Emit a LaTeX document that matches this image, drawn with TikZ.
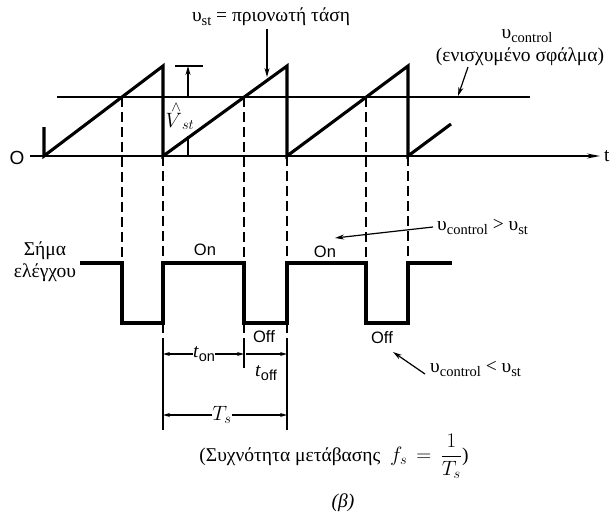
\documentclass[tikz,border=0pt]{standalone}
\usepackage{fontspec}
\setmainfont{Liberation Serif}
\newfontfamily\sansf{Liberation Sans}
\usetikzlibrary{arrows.meta}
\newcommand\mysub[1]{\raisebox{-0.45ex}{\fontsize{14.5}{15}\selectfont #1}}
\begin{document}
\begin{tikzpicture}[x=1pt,y=-1pt,
  wave/.style={line width=3.1pt, line join=miter},
  axisln/.style={line width=1.4pt},
  dashln/.style={line width=1.1pt, dash pattern=on 10pt off 5pt},
  txt/.style={font=\fontsize{19.5}{22}\selectfont, inner sep=0pt},
  sanstxt/.style={font=\sansf\fontsize{16.5}{18}\selectfont, inner sep=0pt},
  lbl/.style={-{Stealth[length=9pt,width=5pt]}, line width=1.2pt},
  dimarr/.style={-{Stealth[length=7pt,width=4pt]}, line width=1.2pt}]
\useasboundingbox (0,0) rectangle (611,515);

% axis
\coordinate (o) at (30,156);
\coordinate (axend) at (600,156);
\draw[axisln, -{Stealth[length=13pt,width=5pt]}] (o) -- (axend);
\node[font=\sansf\fontsize{19}{20}\selectfont, inner sep=0pt] (O) at (17,158) {O};
\node[txt, anchor=west] (tlab) at (604,156) {t};

% control line
\coordinate (c1) at (57,97);
\coordinate (c2) at (530,97);
\draw[axisln] (c1) -- (c2);

% sawtooth
\draw[wave] (44,127) -- (44,156) -- (163,66) -- (163,156) -- (287,66) -- (287,156) -- (408,66) -- (408,156) -- (451,124);

% dashed guides
\foreach \x in {122,244,366} \draw[dashln] (\x,97) -- (\x,263);
\foreach \x in {163,287,408} \draw[dashln] (\x,156) -- (\x,263);
\foreach \x in {163,244,287} \draw[dashln] (\x,323) -- (\x,342);

% PWM
\draw[wave] (80,263) -- (122,263) -- (122,323) -- (163,323) -- (163,263) -- (244,263) -- (244,323) -- (287,323) -- (287,263) -- (366,263) -- (366,323) -- (408,323) -- (408,263) -- (452,263);

% V hat marker
\coordinate (vh1) at (175,66);
\coordinate (vh2) at (203,66);
\draw[axisln] (vh1) -- (vh2);
\coordinate (vha) at (188,97);
\coordinate (vhb) at (188,66);
\draw[lbl] (vha) -- (vhb);
\coordinate (vhc) at (188,156);
\coordinate (vhd) at (188,136);
\draw[axisln] (vhc) -- (vhd);
\node[txt] (vhat) at (180,116) {$\stackrel{\wedge}{V}_{st}$};

% top label
\node[txt] (vst) at (271,17) {υ\mysub{st} = πριονωτή τάση};
\coordinate (vsttip) at (267,77);
\draw[lbl] (vsttip |- vst.south) ++(0,3) -- (vsttip);

% control label
\node[txt] (vc) at (527,36) {υ\mysub{control}};
\node[txt] (err) at (520,57) {(ενισχυμένο σφάλμα)};
\coordinate (errtail) at (468,67);
\coordinate (errtip) at (458,96);
\draw[lbl] (errtail) -- (errtip);

% control signal label
\node[txt, align=center] (sig) at (45,262) {Σήμα\\ελέγχου};

% On / Off
\node[sanstxt] (on1) at (205,250) {On};
\node[sanstxt] (on2) at (325,252) {On};
\node[sanstxt] (off1) at (264,337) {Off};
\node[sanstxt] (off2) at (382,338) {Off};

% comparisons
\node[txt, anchor=west] (gt) at (437,227) {υ\mysub{control} > υ\mysub{st}};
\coordinate (gttip) at (335,238);
\draw[lbl] ([xshift=-4pt]gt.west) -- (gttip);
\node[txt, anchor=west] (lt) at (430,369) {υ\mysub{control} < υ\mysub{st}};
\coordinate (lttip) at (393,352);
\draw[lbl] ([xshift=-5pt,yshift=-5pt]lt.west) -- (lttip);

% dimensions
\coordinate (d1a) at (163,342); \coordinate (d1b) at (163,430);
\coordinate (d2a) at (244,342); \coordinate (d2b) at (244,368);
\coordinate (d3a) at (287,342); \coordinate (d3b) at (287,430);
\draw[axisln] (d1a) -- (d1b);
\draw[axisln] (d2a) -- (d2b);
\draw[axisln] (d3a) -- (d3b);
\node[txt] (ton) at (204,354) {\textit{t}\mysub{\sansf on}};
\draw[dimarr] (ton.west) -- (163,354);
\draw[dimarr] (ton.east) -- (244,354);
\draw[dimarr] (246,354) -- (287,354);
\node[txt] (toff) at (266,373) {\textit{t}\mysub{\sansf off}};
\node[txt] (ts) at (222,415) {$T_s$};
\draw[dimarr] (ts.west) -- (163,415);
\draw[dimarr] (ts.east) -- (287,415);

% caption
\node[txt] (cap) at (334,456) {(Συχνότητα μετάβασης\ \ $f_s\,=\,{\displaystyle\frac{1}{T_s}}$)};
\node[txt] (beta) at (343,503) {\textit{(β)}};
\end{tikzpicture}
\end{document}
